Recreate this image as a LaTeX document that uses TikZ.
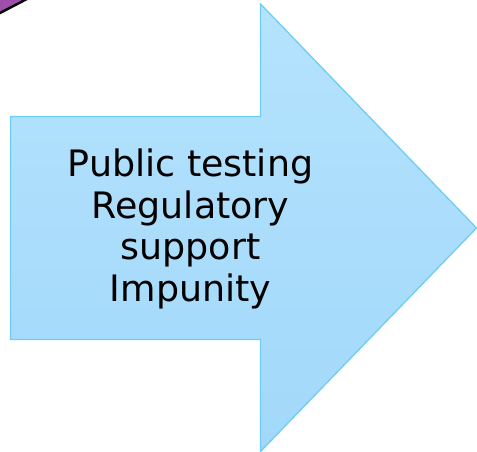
\documentclass[tikz,border=0pt]{standalone}
\usepackage{fontspec}
\setmainfont{DejaVu Sans}
\usetikzlibrary{calc}
\definecolor{arrowtop}{HTML}{B4E3FD}
\definecolor{arrowbot}{HTML}{A2D8FA}
\definecolor{arrowline}{HTML}{6ECDF6}
\definecolor{blobpurple}{HTML}{9D4FA9}

\begin{document}
\begin{tikzpicture}[x=1pt, y=-1pt]
			%%%%% START %%%%%
			
			\useasboundingbox (0, 0) rectangle (477, 452);
			\clip (0, 0) rectangle (477, 452);
			
			\draw[fill=blobpurple, line width=2.4pt] (-10, 18.2) -- (35, -5.2) -- (-10, -10) -- cycle;
			
			\draw[top color=arrowtop, bottom color=arrowbot, draw=arrowline, line width=1.3pt]
				(10.5, 116.5) -- (260.5, 116.5) -- (260.5, 4) -- (476.5, 228)
				-- (260.5, 451.5) -- (260.5, 339.5) -- (10.5, 339.5) -- cycle;
			
			\node[align=center, inner sep=0pt, font=\fontsize{36.4}{41.5}\selectfont] (arrowtext) at (190.5, 229)
				{Public testing\\Regulatory\\support\\Impunity};
			
			%%%%% END %%%%%
		\end{tikzpicture}
\end{document}
